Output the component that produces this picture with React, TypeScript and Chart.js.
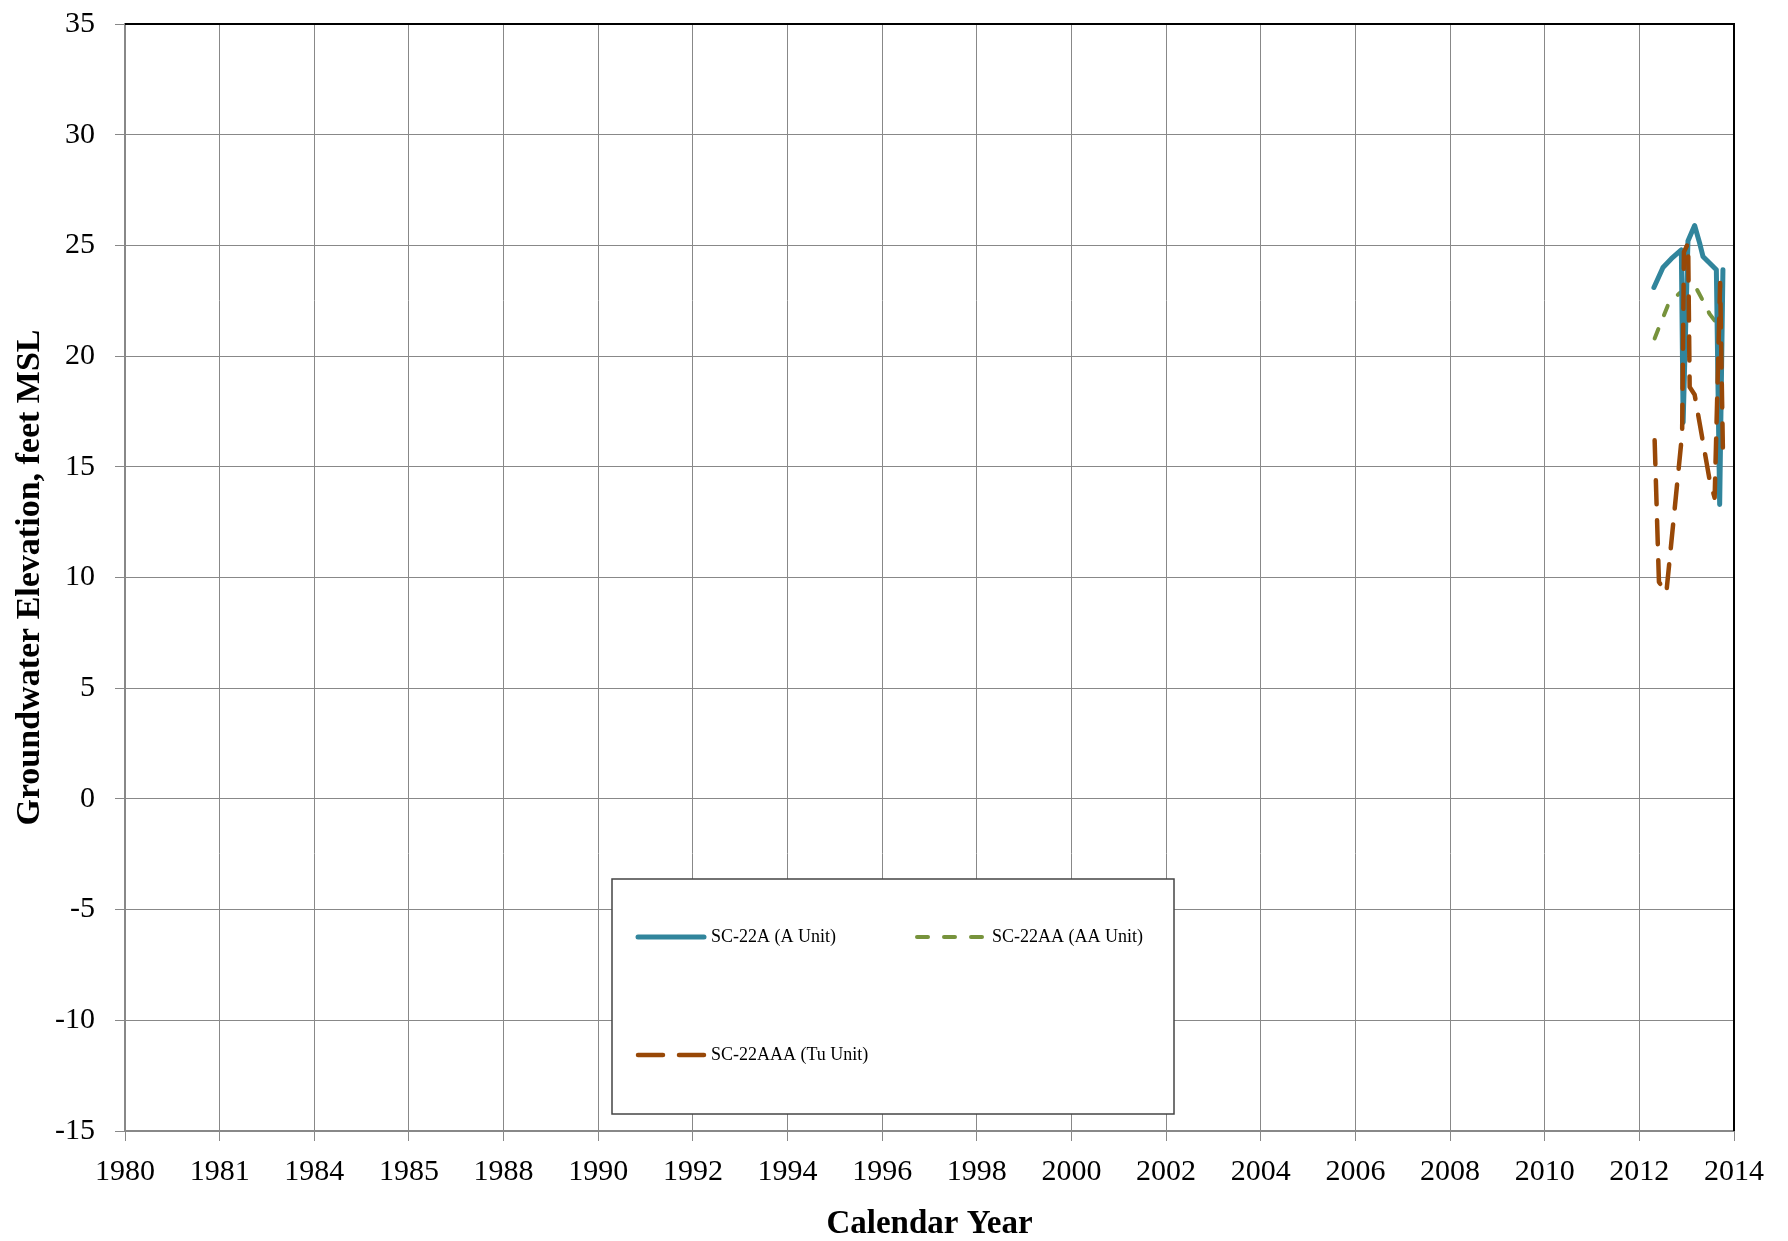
import { useEffect, useRef } from 'react';
import { Chart, registerables } from 'chart.js';

Chart.register(...registerables);

// X-axis tick labels (equally spaced on the original chart)
const TICK_YEARS = [1980, 1981, 1984, 1985, 1988, 1990, 1992, 1994, 1996, 1998, 2000, 2002, 2004, 2006, 2008, 2010, 2012, 2014];
const Y_MIN = -15;
const Y_MAX = 35;
const Y_STEP = 5;

// SC-22A (A Unit)
const SC22A_DATES = [2012.308, 2012.499, 2012.676, 2012.887, 2012.925, 2013.027, 2013.168, 2013.274, 2013.344, 2013.627, 2013.697, 2013.766];
const SC22A_VALUES = [23.1, 24.0, 24.4, 24.8, 17.0, 25.2, 25.9, 25.1, 24.5, 23.9, 13.3, 23.9];

// SC-22AA (AA Unit)
const SC22AA_DATES = [2012.323, 2012.604, 2012.851, 2013.168, 2013.344, 2013.485, 2013.627];
const SC22AA_VALUES = [20.8, 22.3, 22.85, 23.2, 22.5, 21.9, 21.5];

// SC-22AAA (Tu Unit)
const SC22AAA_DATES = [2012.323, 2012.414, 2012.570, 2012.904, 2012.942, 2013.031, 2013.063, 2013.169, 2013.485, 2013.591, 2013.707, 2013.766];
const SC22AAA_VALUES = [16.2, 9.8, 9.3, 16.5, 24.7, 25.1, 18.6, 18.25, 14.4, 13.6, 23.3, 15.7];

const FONT = "'Liberation Serif', 'Times New Roman', serif";

// map a decimal year onto the equally spaced tick positions
function toPos(year: number): number {
  for (let i = 0; i < TICK_YEARS.length - 1; i++) {
    const a = TICK_YEARS[i];
    const b = TICK_YEARS[i + 1];
    if (year >= a && year <= b) return i + (year - a) / (b - a);
  }
  return TICK_YEARS.length - 1;
}

function toPoints(dates: number[], values: number[]) {
  return dates.map((d, i) => ({ x: toPos(d), y: values[i] }));
}

const frameLines = {
  id: 'frameLines',
  afterDatasetsDraw(chart: any) {
    const { ctx, chartArea } = chart;
    ctx.save();
    ctx.strokeStyle = '#000';
    ctx.lineWidth = 2;
    ctx.beginPath();
    ctx.moveTo(chartArea.left, chartArea.top);
    ctx.lineTo(chartArea.right, chartArea.top);
    ctx.lineTo(chartArea.right, chartArea.bottom);
    ctx.stroke();
    ctx.restore();
  },
};

const boxLegend = {
  id: 'boxLegend',
  afterDraw(chart: any) {
    const ctx = chart.ctx;
    const bx = 612, by = 879, bw = 562, bh = 235;
    ctx.save();
    ctx.fillStyle = '#ffffff';
    ctx.fillRect(bx, by, bw, bh);
    ctx.strokeStyle = '#444444';
    ctx.lineWidth = 1.5;
    ctx.strokeRect(bx, by, bw, bh);
    const slots = [
      { x: 638, y: 937, tx: 711 },
      { x: 917, y: 937, tx: 992 },
      { x: 638, y: 1055, tx: 711 },
    ];
    chart.data.datasets.forEach((ds: any, i: number) => {
      const s = slots[i];
      ctx.save();
      ctx.strokeStyle = ds.borderColor;
      ctx.lineWidth = ds.borderWidth;
      ctx.lineCap = 'round';
      ctx.setLineDash(ds.legendDash || []);
      ctx.beginPath();
      ctx.moveTo(s.x, s.y);
      ctx.lineTo(s.x + 66, s.y);
      ctx.stroke();
      ctx.restore();
      ctx.fillStyle = '#000';
      ctx.font = `18px ${FONT}`;
      ctx.textBaseline = 'middle';
      ctx.textAlign = 'left';
      ctx.fillText(ds.label, s.tx, s.y);
    });
    ctx.restore();
  },
};

export default function App() {
  const ref = useRef<HTMLCanvasElement | null>(null);

  useEffect(() => {
    if (!ref.current) return;
    const chart = new Chart(ref.current, {
      type: 'line',
      data: {
        datasets: [
          {
            label: 'SC-22A (A Unit)',
            data: toPoints(SC22A_DATES, SC22A_VALUES),
            borderColor: '#31859C',
            borderWidth: 5,
            pointRadius: 0,
            tension: 0,
            borderJoinStyle: 'round',
            borderCapStyle: 'round',
            order: 1,
          } as any,
          {
            label: 'SC-22AA (AA Unit)',
            data: toPoints(SC22AA_DATES, SC22AA_VALUES),
            borderColor: '#77933C',
            borderWidth: 4,
            borderDash: [10, 15],
            legendDash: [11, 16],
            pointRadius: 0,
            tension: 0,
            borderCapStyle: 'round',
            order: 2,
          } as any,
          {
            label: 'SC-22AAA (Tu Unit)',
            data: toPoints(SC22AAA_DATES, SC22AAA_VALUES),
            borderColor: '#984807',
            borderWidth: 4.5,
            borderDash: [24, 16],
            legendDash: [25, 16],
            pointRadius: 0,
            tension: 0,
            borderCapStyle: 'round',
            borderJoinStyle: 'round',
            order: 0,
          } as any,
        ],
      },
      options: {
        animation: false,
        responsive: false,
        devicePixelRatio: 1,
        layout: { padding: { top: 24, right: 54, left: 0, bottom: 0 }, autoPadding: false },
        plugins: {
          legend: { display: false },
          tooltip: { enabled: false },
        },
        scales: {
          x: {
            type: 'linear',
            min: 0,
            max: TICK_YEARS.length - 1,
            afterFit: (s: any) => { s.height = 110; s.paddingLeft = 0; s.paddingRight = 0; },
            ticks: {
              stepSize: 1,
              autoSkip: false,
              maxRotation: 0,
              padding: 13,
              color: '#000',
              font: { family: FONT, size: 30 },
              callback: (v: any) => String(TICK_YEARS[Math.round(Number(v))] ?? ''),
            },
            grid: { color: '#888888', lineWidth: 1, tickLength: 10, tickColor: '#888888', drawTicks: true },
            border: { color: '#888888', width: 2 },
            title: {
              display: true,
              text: 'Calendar Year',
              color: '#000',
              font: { family: FONT, size: 33, weight: 'bold' },
              padding: { top: 0, bottom: -3 },
            },
          },
          y: {
            type: 'linear',
            min: Y_MIN,
            max: Y_MAX,
            afterFit: (s: any) => { s.width = 125; s.paddingTop = 0; s.paddingBottom = 0; },
            ticks: {
              stepSize: Y_STEP,
              padding: 20,
              color: '#000',
              font: { family: FONT, size: 30 },
            },
            grid: { color: '#888888', lineWidth: 1, tickLength: 10, tickColor: '#888888', drawTicks: true },
            border: { color: '#888888', width: 2 },
            title: {
              display: true,
              text: 'Groundwater Elevation, feet MSL',
              color: '#000',
              font: { family: FONT, size: 34, weight: 'bold' },
              padding: { top: 10, bottom: 0 },
            },
          },
        },
      } as any,
      plugins: [frameLines, boxLegend],
    });
    return () => chart.destroy();
  }, []);

  return (
    <div style={{ position: 'absolute', left: 0, top: 0, width: 1788, height: 1241, background: '#fff' }}>
      <canvas ref={ref} width={1788} height={1241} style={{ width: 1788, height: 1241, display: 'block' }} />
    </div>
  );
}
